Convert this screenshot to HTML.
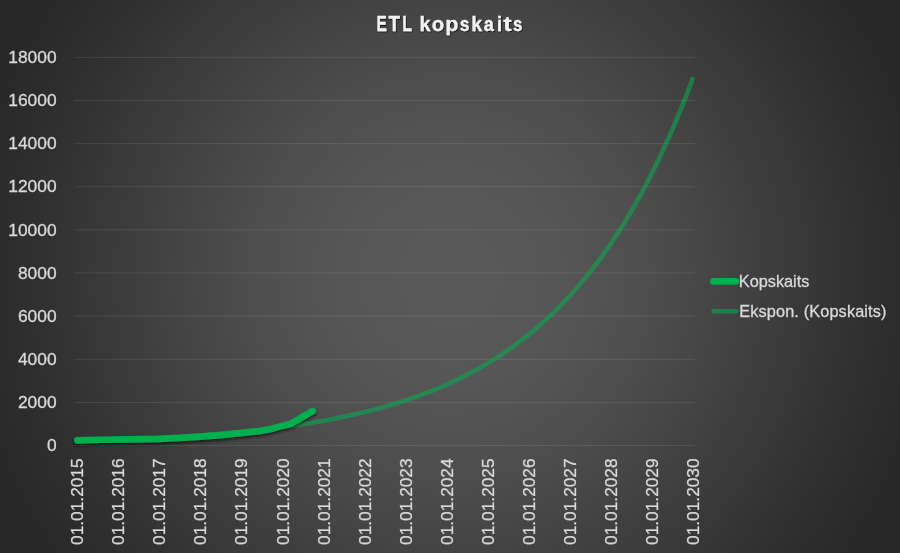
<!DOCTYPE html>
<html><head><meta charset="utf-8"><style>
html,body{margin:0;padding:0;}
body{width:900px;height:553px;overflow:hidden;background:radial-gradient(circle 528.2px at 450px 276.5px, rgb(89.00,89.00,89.00) 0.0px, rgb(88.98,88.98,88.98) 8.0px, rgb(88.92,88.92,88.92) 16.0px, rgb(88.83,88.83,88.83) 24.0px, rgb(88.69,88.69,88.69) 32.0px, rgb(88.52,88.52,88.52) 40.0px, rgb(88.31,88.31,88.31) 48.0px, rgb(88.06,88.06,88.06) 56.0px, rgb(87.77,87.77,87.77) 64.0px, rgb(87.44,87.44,87.44) 72.0px, rgb(87.07,87.07,87.07) 80.0px, rgb(86.66,86.66,86.66) 88.0px, rgb(86.22,86.22,86.22) 96.0px, rgb(85.73,85.73,85.73) 104.0px, rgb(85.21,85.21,85.21) 112.0px, rgb(84.65,84.65,84.65) 120.0px, rgb(84.05,84.05,84.05) 128.0px, rgb(83.42,83.42,83.42) 136.0px, rgb(82.75,82.75,82.75) 144.0px, rgb(82.05,82.05,82.05) 152.0px, rgb(81.31,81.31,81.31) 160.0px, rgb(80.54,80.54,80.54) 168.0px, rgb(79.74,79.74,79.74) 176.0px, rgb(78.90,78.90,78.90) 184.0px, rgb(78.04,78.04,78.04) 192.0px, rgb(77.14,77.14,77.14) 200.0px, rgb(76.22,76.22,76.22) 208.0px, rgb(75.27,75.27,75.27) 216.0px, rgb(74.29,74.29,74.29) 224.0px, rgb(73.30,73.30,73.30) 232.0px, rgb(72.27,72.27,72.27) 240.0px, rgb(71.23,71.23,71.23) 248.0px, rgb(70.17,70.17,70.17) 256.0px, rgb(69.09,69.09,69.09) 264.0px, rgb(67.99,67.99,67.99) 272.0px, rgb(66.88,66.88,66.88) 280.0px, rgb(65.75,65.75,65.75) 288.0px, rgb(64.62,64.62,64.62) 296.0px, rgb(63.47,63.47,63.47) 304.0px, rgb(62.32,62.32,62.32) 312.0px, rgb(61.17,61.17,61.17) 320.0px, rgb(60.01,60.01,60.01) 328.0px, rgb(58.85,58.85,58.85) 336.0px, rgb(57.70,57.70,57.70) 344.0px, rgb(56.54,56.54,56.54) 352.0px, rgb(55.40,55.40,55.40) 360.0px, rgb(54.26,54.26,54.26) 368.0px, rgb(53.14,53.14,53.14) 376.0px, rgb(52.03,52.03,52.03) 384.0px, rgb(50.94,50.94,50.94) 392.0px, rgb(49.87,49.87,49.87) 400.0px, rgb(48.82,48.82,48.82) 408.0px, rgb(47.80,47.80,47.80) 416.0px, rgb(46.80,46.80,46.80) 424.0px, rgb(45.84,45.84,45.84) 432.0px, rgb(44.91,44.91,44.91) 440.0px, rgb(44.02,44.02,44.02) 448.0px, rgb(43.18,43.18,43.18) 456.0px, rgb(42.37,42.37,42.37) 464.0px, rgb(41.62,41.62,41.62) 472.0px, rgb(40.91,40.91,40.91) 480.0px, rgb(40.26,40.26,40.26) 488.0px, rgb(39.67,39.67,39.67) 496.0px, rgb(39.14,39.14,39.14) 504.0px, rgb(38.68,38.68,38.68) 512.0px, rgb(38.29,38.29,38.29) 520.0px, rgb(37.97,37.97,37.97) 528.0px, rgb(37.96,37.96,37.96) 528.2px);font-family:"Liberation Sans",sans-serif;}
svg{position:absolute;left:0;top:0;}
.t{opacity:0.999;}
.t{font-family:"Liberation Sans",sans-serif;}
</style></head><body>
<svg width="900" height="553" viewBox="0 0 900 553">
<defs>
<filter id="sh" x="-10%" y="-50%" width="120%" height="200%">
<feDropShadow dx="0" dy="2" stdDeviation="1.8" flood-color="#000" flood-opacity="0.63"/>
</filter>
<filter id="tsh" x="-10%" y="-30%" width="120%" height="160%">
<feDropShadow dx="0.6" dy="1.0" stdDeviation="0.55" flood-color="#000" flood-opacity="0.75"/>
</filter>
</defs>
<g stroke="rgba(242,242,242,0.1)" stroke-width="1" shape-rendering="auto"><line x1="74.4" x2="694.9" y1="445.55" y2="445.55"/><line x1="74.4" x2="694.9" y1="402.42" y2="402.42"/><line x1="74.4" x2="694.9" y1="359.29" y2="359.29"/><line x1="74.4" x2="694.9" y1="316.16" y2="316.16"/><line x1="74.4" x2="694.9" y1="273.03" y2="273.03"/><line x1="74.4" x2="694.9" y1="229.90" y2="229.90"/><line x1="74.4" x2="694.9" y1="186.77" y2="186.77"/><line x1="74.4" x2="694.9" y1="143.64" y2="143.64"/><line x1="74.4" x2="694.9" y1="100.51" y2="100.51"/><line x1="74.4" x2="694.9" y1="57.38" y2="57.38"/></g>
<clipPath id="pa"><rect x="70" y="40" width="624.6" height="420"/></clipPath>
<polyline points="77.00,441.43 81.00,441.31 85.00,441.18 89.00,441.05 93.00,440.92 97.00,440.78 101.00,440.64 105.00,440.50 109.00,440.35 113.00,440.19 117.00,440.03 121.00,439.87 125.00,439.70 129.00,439.53 133.00,439.35 137.00,439.17 141.00,438.98 145.00,438.78 149.00,438.58 153.00,438.38 157.00,438.17 161.00,437.95 165.00,437.72 169.00,437.49 173.00,437.25 177.00,437.01 181.00,436.75 185.00,436.49 189.00,436.23 193.00,435.95 197.00,435.67 201.00,435.37 205.00,435.07 209.00,434.76 213.00,434.44 217.00,434.11 221.00,433.78 225.00,433.43 229.00,433.07 233.00,432.70 237.00,432.32 241.00,431.93 245.00,431.53 249.00,431.11 253.00,430.68 257.00,430.24 261.00,429.79 265.00,429.32 269.00,428.84 273.00,428.35 277.00,427.84 281.00,427.32 285.00,426.78 289.00,426.22 293.00,425.65 297.00,425.06 301.00,424.45 305.00,423.83 309.00,423.19 313.00,422.53 317.00,421.84 321.00,421.14 325.00,420.42 329.00,419.68 333.00,418.91 337.00,418.12 341.00,417.31 345.00,416.48 349.00,415.62 353.00,414.73 357.00,413.82 361.00,412.88 365.00,411.91 369.00,410.92 373.00,409.89 377.00,408.84 381.00,407.75 385.00,406.63 389.00,405.48 393.00,404.30 397.00,403.08 401.00,401.82 405.00,400.52 409.00,399.19 413.00,397.82 417.00,396.41 421.00,394.95 425.00,393.46 429.00,391.92 433.00,390.33 437.00,388.70 441.00,387.01 445.00,385.28 449.00,383.50 453.00,381.66 457.00,379.77 461.00,377.82 465.00,375.82 469.00,373.76 473.00,371.63 477.00,369.45 481.00,367.19 485.00,364.88 489.00,362.49 493.00,360.03 497.00,357.50 501.00,354.90 505.00,352.21 509.00,349.45 513.00,346.61 517.00,343.68 521.00,340.67 525.00,337.56 529.00,334.37 533.00,331.08 537.00,327.69 541.00,324.20 545.00,320.61 549.00,316.91 553.00,313.11 557.00,309.19 561.00,305.16 565.00,301.00 569.00,296.72 573.00,292.32 577.00,287.79 581.00,283.12 585.00,278.31 589.00,273.36 593.00,268.27 597.00,263.02 601.00,257.62 605.00,252.06 609.00,246.34 613.00,240.44 617.00,234.37 621.00,228.12 625.00,221.69 629.00,215.07 633.00,208.25 637.00,201.22 641.00,194.00 645.00,186.55 649.00,178.89 653.00,171.00 657.00,162.87 661.00,154.51 665.00,145.90 669.00,137.03 673.00,127.90 677.00,118.50 681.00,108.83 685.00,98.86 689.00,88.61 693.00,78.04 693.40,76.97" fill="none" stroke="rgba(0,176,80,0.55)" stroke-width="4.6" stroke-linecap="butt" stroke-linejoin="round" clip-path="url(#pa)"/>
<polyline points="77.40,440.40 100.00,439.75 130.00,439.35 158.00,438.90 180.00,437.95 200.00,436.60 220.00,435.10 240.00,433.10 260.00,431.00 271.00,429.00 281.80,425.90 290.70,423.80 312.70,411.00" fill="none" stroke="#00b050" stroke-width="6.7" stroke-linecap="round" stroke-linejoin="round" filter="url(#sh)"/>
<g class="t" fill="#d9d9d9" stroke="#d9d9d9" stroke-width="0.3" font-size="17.4" text-anchor="end"><text x="56.6" y="451.15">0</text><text x="56.6" y="408.02">2000</text><text x="56.6" y="364.89">4000</text><text x="56.6" y="321.76">6000</text><text x="56.6" y="278.63">8000</text><text x="56.6" y="235.50">10000</text><text x="56.6" y="192.37">12000</text><text x="56.6" y="149.24">14000</text><text x="56.6" y="106.11">16000</text><text x="56.6" y="62.98">18000</text></g>
<g class="t" fill="#d9d9d9" stroke="#d9d9d9" stroke-width="0.3" font-size="17.3" text-anchor="end"><text transform="translate(83.10 458.4) rotate(-90)">01.01.2015</text><text transform="translate(124.19 458.4) rotate(-90)">01.01.2016</text><text transform="translate(165.28 458.4) rotate(-90)">01.01.2017</text><text transform="translate(206.37 458.4) rotate(-90)">01.01.2018</text><text transform="translate(247.46 458.4) rotate(-90)">01.01.2019</text><text transform="translate(288.55 458.4) rotate(-90)">01.01.2020</text><text transform="translate(329.64 458.4) rotate(-90)">01.01.2021</text><text transform="translate(370.73 458.4) rotate(-90)">01.01.2022</text><text transform="translate(411.82 458.4) rotate(-90)">01.01.2023</text><text transform="translate(452.91 458.4) rotate(-90)">01.01.2024</text><text transform="translate(494.00 458.4) rotate(-90)">01.01.2025</text><text transform="translate(535.09 458.4) rotate(-90)">01.01.2026</text><text transform="translate(576.18 458.4) rotate(-90)">01.01.2027</text><text transform="translate(617.27 458.4) rotate(-90)">01.01.2028</text><text transform="translate(658.36 458.4) rotate(-90)">01.01.2029</text><text transform="translate(699.45 458.4) rotate(-90)">01.01.2030</text></g>
<g class="t" fill="#f2f2f2" stroke="#f2f2f2" stroke-width="0.3" font-size="22.6" font-weight="bold" filter="url(#tsh)"><text transform="translate(376.51 31.00) scale(0.686 1.000)">E</text><text transform="translate(388.44 31.00) scale(0.834 1.000)">T</text><text transform="translate(402.28 31.00) scale(0.707 1.000)">L</text><text transform="translate(419.47 31.40) scale(0.872 0.930)">k</text><text transform="translate(431.76 31.40) scale(0.897 0.930)">o</text><text transform="translate(445.24 31.40) scale(0.948 0.930)">p</text><text transform="translate(459.83 31.40) scale(0.774 0.930)">s</text><text transform="translate(471.29 31.40) scale(0.863 0.930)">k</text><text transform="translate(483.72 31.40) scale(0.805 0.930)">a</text><text transform="translate(496.68 31.40) scale(0.871 0.930)">i</text><text transform="translate(503.24 31.40) scale(1.118 0.930)">t</text><text transform="translate(512.96 31.40) scale(0.747 0.930)">s</text></g>
<line x1="713.4" x2="735.9" y1="281.3" y2="281.3" stroke="#00b050" stroke-width="6.7" stroke-linecap="round"/>
<line x1="713.6" x2="736.4" y1="311.3" y2="311.3" stroke="rgba(0,176,80,0.55)" stroke-width="4.6" stroke-linecap="round"/>
<g class="t" fill="#d9d9d9" stroke="#d9d9d9" stroke-width="0.3" font-size="16.3">
<text x="738.8" y="286.6">Kopskaits</text>
<text x="739.2" y="316.7" letter-spacing="0.14">Ekspon. (Kopskaits)</text>
</g>
</svg>
</body></html>
